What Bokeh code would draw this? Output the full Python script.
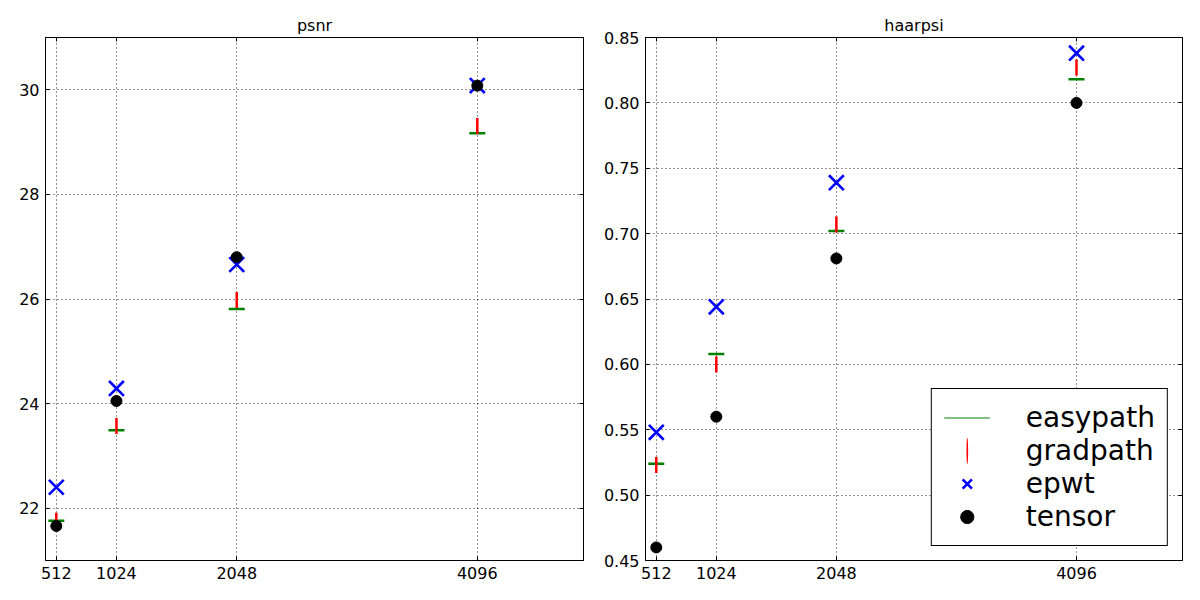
import math
from bokeh.plotting import figure
from bokeh.models import (ColumnDataSource, FixedTicker, LinearAxis, Legend, LegendItem,
                          Range1d, NumeralTickFormatter, CustomLabelingPolicy)
from bokeh.layouts import row
from bokeh.embed import file_html
from bokeh.resources import INLINE

sizes = [512, 1024, 2048, 4096]

psnr_easypath = [21.76, 23.49, 25.81, 29.17]
psnr_gradpath = [21.76, 23.57, 25.98, 29.31]
psnr_epwt = [22.40, 24.29, 26.66, 30.08]
psnr_tensor = [21.66, 24.05, 26.80, 30.08]

haarpsi_easypath = [0.524, 0.608, 0.702, 0.818]
haarpsi_gradpath = [0.523, 0.600, 0.707, 0.827]
haarpsi_epwt = [0.548, 0.644, 0.739, 0.838]
haarpsi_tensor = [0.460, 0.560, 0.681, 0.800]

psnr_ticks = [22, 24, 26, 28, 30]
haarpsi_ticks = [0.45, 0.50, 0.55, 0.60, 0.65, 0.70, 0.75, 0.80, 0.85]

FONT = "DejaVu Sans"
GREEN = "#008000"
RED = "#ff0000"
BLUE = "#0000ff"

HIDE_LABELS = """
for (const i of Array.from(indices)) { indices.unset(i) }
return indices
"""


def style_axis(ax, labels=True):
    ax.major_tick_in = 4
    ax.major_tick_out = 0
    ax.minor_tick_line_color = None
    ax.axis_line_color = "black"
    ax.major_tick_line_color = "black"
    ax.major_label_text_font = FONT
    ax.major_label_text_color = "black"
    if labels:
        ax.major_label_text_font_size = "16px"
        ax.major_label_standoff = 6
    else:
        ax.major_label_text_font_size = "0px"
        ax.major_label_standoff = 0
        ax.major_label_policy = CustomLabelingPolicy(code=HIDE_LABELS)


def make(title, easy, grad, epwt, tensor, yrange, yticks, fmt, mleft, mright, with_legend):
    p = figure(width=600, height=600, output_backend="svg", toolbar_location=None,
               x_range=Range1d(420, 5000), y_range=Range1d(*yrange),
               min_border_left=mleft, min_border_right=mright,
               min_border_top=37, min_border_bottom=40, title=title)
    p.title.text_font = FONT
    p.title.text_font_size = "16px"
    p.title.text_font_style = "normal"
    p.title.text_color = "black"
    p.title.align = "center"
    p.title.standoff = 6
    p.outline_line_color = "black"
    p.outline_line_alpha = 1
    p.outline_line_width = 1
    p.background_fill_color = "white"
    p.border_fill_color = "white"

    xt = FixedTicker(ticks=sizes)
    yt = FixedTicker(ticks=yticks)
    top = LinearAxis(ticker=FixedTicker(ticks=sizes))
    right = LinearAxis(ticker=FixedTicker(ticks=yticks))
    p.add_layout(top, "above")
    p.add_layout(right, "right")
    bottom = p.below[0]
    left = p.left[0]
    bottom.ticker = xt
    left.ticker = yt
    if fmt is not None:
        left.formatter = NumeralTickFormatter(format=fmt)
    style_axis(bottom)
    style_axis(left)
    style_axis(top, labels=False)
    style_axis(right, labels=False)

    for g, t in ((p.xgrid[0], xt), (p.ygrid[0], yt)):
        g.ticker = t
        g.grid_line_color = "black"
        g.grid_line_alpha = 0.85
        g.grid_line_width = 1
        g.grid_line_dash = "1 3"

    src = ColumnDataSource(dict(x=sizes, easy=easy, grad=grad, epwt=epwt, tensor=tensor))

    r_easy = p.scatter("x", "easy", source=src, marker="dash", size=16,
                       line_color=GREEN, line_width=2.5)
    r_easy_leg = p.segment(x0="x", y0="easy", x1="x", y1="easy", source=src,
                           line_color=GREEN, line_width=1)
    r_grad = p.scatter("x", "grad", source=src, marker="dash", size=16, angle=math.pi / 2,
                       line_color=RED, line_width=2.5)
    r_grad_leg = p.ellipse(x="x", y="grad", width=1, height=16, width_units="screen",
                           height_units="screen", source=src, fill_color=RED, line_color=None)
    r_epwt = p.scatter("x", "epwt", source=src, marker="x", size=21,
                       line_color=BLUE, line_width=2.6)
    r_tensor = p.scatter("x", "tensor", source=src, marker="circle", size=11,
                         fill_color="black", line_color="black")

    if with_legend:
        legend = Legend(items=[
            LegendItem(label="easypath", renderers=[r_easy_leg]),
            LegendItem(label="gradpath", renderers=[r_grad_leg]),
            LegendItem(label="epwt", renderers=[r_epwt]),
            LegendItem(label="tensor", renderers=[r_tensor]),
        ], location="bottom_right")
        legend.margin = 14
        legend.padding = 12
        legend.spacing = 0
        legend.glyph_width = 46
        legend.glyph_height = 33
        legend.label_height = 33
        legend.label_standoff = 36
        legend.label_text_font = FONT
        legend.label_text_font_size = "28px"
        legend.label_text_color = "black"
        legend.border_line_color = "black"
        legend.border_line_width = 1
        legend.border_line_alpha = 1
        legend.background_fill_color = "white"
        legend.background_fill_alpha = 1
        p.add_layout(legend, "center")
    return p


p1 = make("psnr", psnr_easypath, psnr_gradpath, psnr_epwt, psnr_tensor,
          (21, 31), psnr_ticks, None, 45, 17, False)
p2 = make("haarpsi", haarpsi_easypath, haarpsi_gradpath, haarpsi_epwt, haarpsi_tensor,
          (0.45, 0.85), haarpsi_ticks, "0.00", 44, 18, True)

layout = row(p1, p2)
open("out.html", "w").write(file_html(layout, INLINE))
